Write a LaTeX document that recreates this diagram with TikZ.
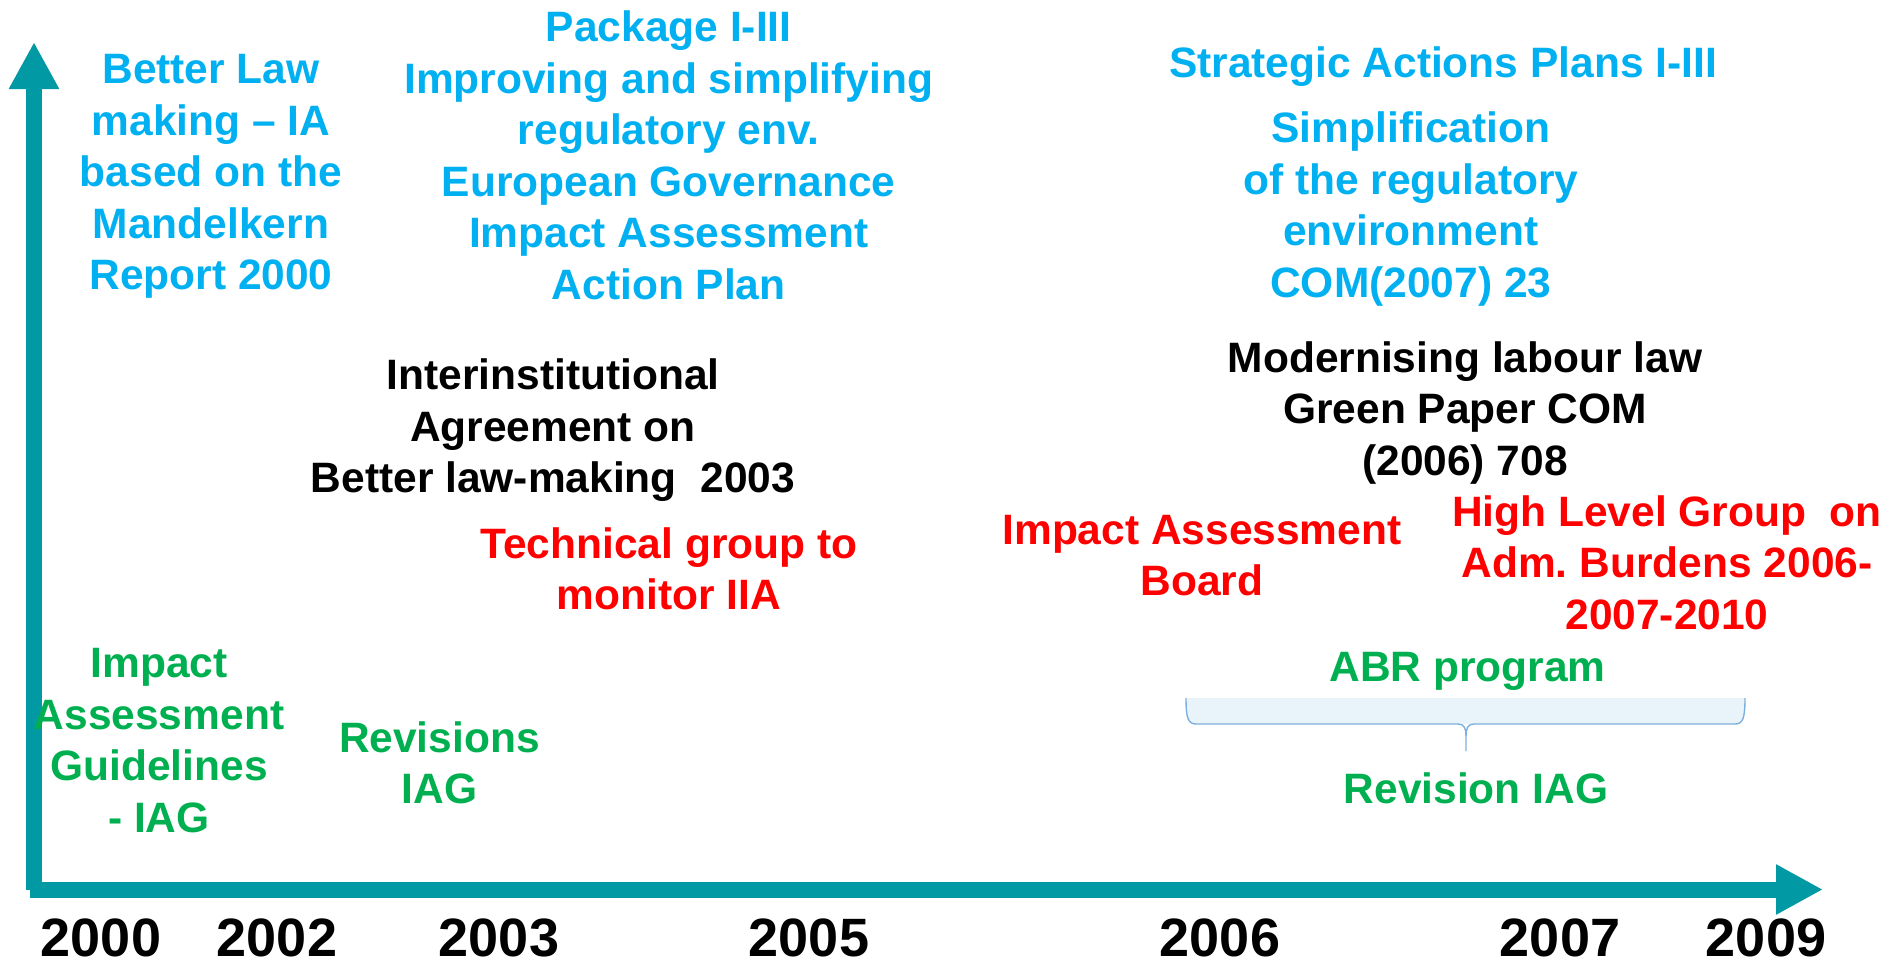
\documentclass[tikz,border=0pt]{standalone}
\usepackage{fontspec}
\usepackage{tikz}
\usetikzlibrary{arrows.meta}

\setmainfont{Liberation Sans}

\definecolor{axisteal}{RGB}{0,153,164}
\definecolor{skyblue}{HTML}{00B0F0}
\definecolor{leafgreen}{HTML}{00B050}
\definecolor{alertred}{HTML}{FF0000}
\definecolor{bracefill}{HTML}{E9F3FA}
\definecolor{braceline}{HTML}{7DB0DE}

\begin{document}
\frenchspacing
\begin{tikzpicture}[x=1pt,y=-1pt,>={Triangle[length=47pt,width=47pt]}]

    \tikzstyle{every node}=[align=center, inner sep=0pt, font=\fontsize{42.5}{51.5}\selectfont\bfseries,
                            execute at begin node=\strut, execute at end node=\strut]
    \tikzstyle{bluenote}=[text=skyblue]
    \tikzstyle{greennote}=[text=leafgreen]
    \tikzstyle{rednote}=[text=alertred]
    \tikzstyle{blacknote}=[text=black]
    \tikzstyle{yearlabel}=[anchor=base, font=\fontsize{54}{64}\selectfont\bfseries, text depth=0pt,
                           execute at begin node={}, execute at end node={}]
    \tikzstyle{axis}=[->, draw=axisteal, fill=axisteal, line width=16pt]
    \tikzstyle{brace}=[draw=braceline, line width=1.4pt]

    \useasboundingbox (0,0) rectangle (1887,961);

    % time axis
    \coordinate (origin) at (34,889.5);
    \coordinate (xstart) at (30,889.5);
    \coordinate (ytip)   at (34,42);
    \coordinate (xtip)   at (1823,889.5);

    \draw[axis] (origin) -- (ytip);
    \draw[axis] (xstart) -- (xtip);

    % years
    \node[yearlabel] (y2000) at (101,956)  {2000};
    \node[yearlabel] (y2002) at (277,956)  {2002};
    \node[yearlabel] (y2003) at (499,956)  {2003};
    \node[yearlabel] (y2005) at (809,956)  {2005};
    \node[yearlabel] (y2006) at (1220,956) {2006};
    \node[yearlabel] (y2007) at (1560,956) {2007};
    \node[yearlabel] (y2009) at (1766,956) {2009};

    % commission initiatives
    \node[bluenote] (mandelkern) at (211,180)
        {Better Law\\making -- IA\\based on the\\Mandelkern\\Report 2000};
    \node[bluenote] (package) at (668.7,163)
        {Package I-III\\Improving and simplifying\\regulatory env.\\European Governance\\Impact Assessment\\Action Plan};
    \node[bluenote] (strategic) at (1443,66.8) {Strategic Actions Plans I-III};
    \node[bluenote] (simplify) at (1410.8,212.4)
        {Simplification\\of the regulatory\\environment\\COM(2007) 23};

    % agreements and papers
    \node[blacknote] (iia) at (553,433.4)
        {Interinstitutional\\Agreement on\\Better law-making~ 2003};
    \node[blacknote] (greenpaper) at (1465,415.9)
        {Modernising labour law\\Green Paper COM\\(2006) 708};

    % bodies
    \node[rednote] (techgroup) at (669,576.4) {Technical group to\\monitor IIA};
    \node[rednote] (iab) at (1202,563.1) {Impact Assessment\\Board};
    \node[rednote] (hlg) at (1667,570.2)
        {High Level Group~ on\\Adm. Burdens 2006-\\2007-2010};

    % guidelines
    \node[greennote] (iag) at (159,748.1) {Impact\\Assessment\\Guidelines\\- IAG};
    \node[greennote] (revisions) at (439.4,770.3) {Revisions\\IAG};
    \node[greennote] (abr) at (1467.5,670.8) {ABR program};
    \node[greennote] (revision) at (1476,792.8) {Revision IAG};

    % brace under the ABR program
    \coordinate (brl)   at (1186,698);
    \coordinate (brr)   at (1745,698);
    \coordinate (brmid) at (1466,736);
    \coordinate (brtip) at (1466,751);

    \fill[bracefill] (brl) .. controls (1186,718) and (1188,724) .. (1196,724) -- (1735,724)
        .. controls (1743,724) and (1745,718) .. (brr) -- cycle;
    \draw[brace] (brl) .. controls (1186,718) and (1188,724) .. (1196,724) -- (1458,724)
        .. controls (1464,724) and (1466,728) .. (brmid) -- (brtip);
    \draw[brace] (brr) .. controls (1745,718) and (1743,724) .. (1735,724) -- (1474,724)
        .. controls (1468,724) and (1466,728) .. (brmid);

\end{tikzpicture}
\end{document}
